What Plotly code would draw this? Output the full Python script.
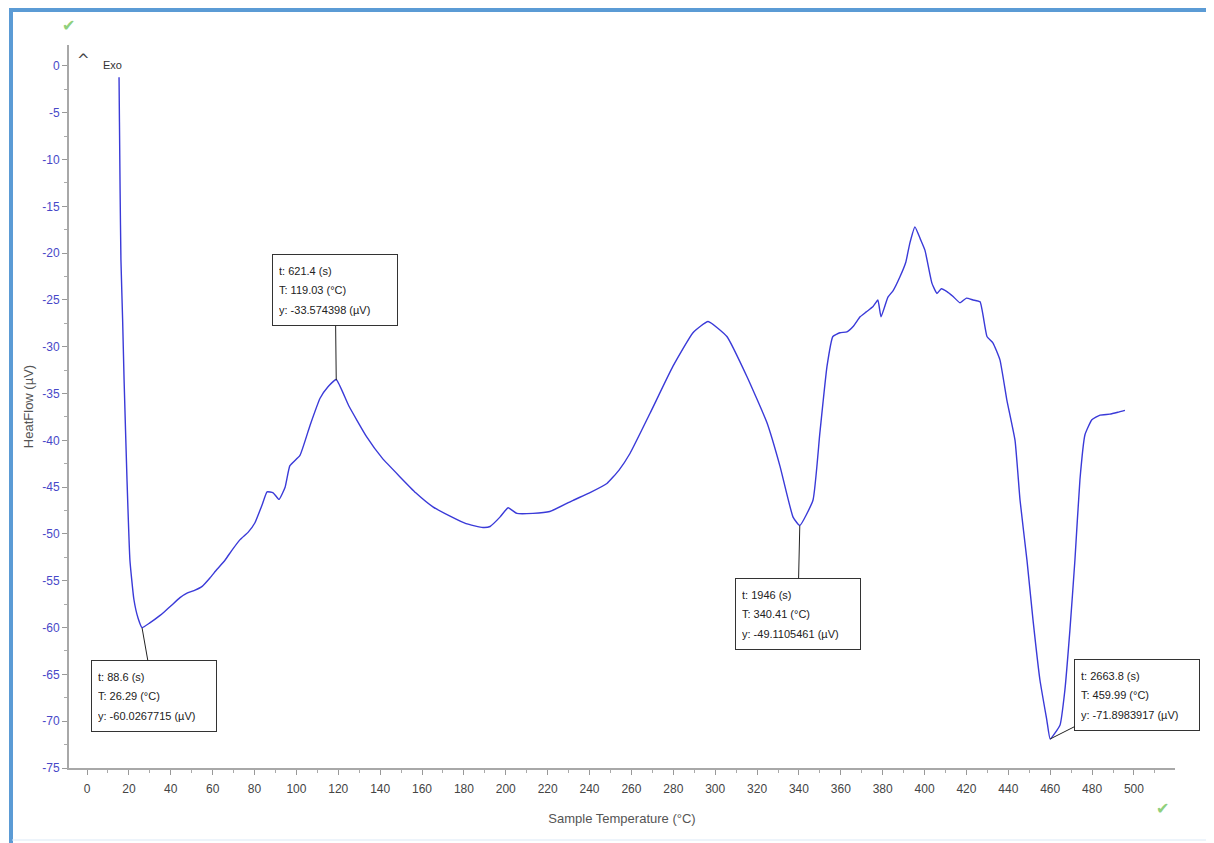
import plotly.graph_objects as go

# ---- data ----
temp = [15.3, 15.5, 15.8, 16.2, 17.0, 17.7, 19.1, 20.5, 22.4, 24.4, 26.3, 30.0, 34.9, 37.0, 40.0,
        44.4, 48.0, 51.6, 55.0, 58.7, 62.0, 65.9, 69.0, 73.1, 77.0, 80.2, 83.6, 86.0, 88.9, 91.7,
        94.6, 96.9, 101.7, 106.5, 111.3, 115.0, 119.0, 125.0, 133.5, 141.0, 149.5, 157.0, 165.2,
        173.4, 181.0, 189.1, 192.5, 197.2, 201.1, 205.3, 213.0, 221.0, 232.2, 240.0, 248.3,
        254.0, 259.3, 268.9, 279.8, 289.4, 296.6, 305.6, 315.2, 324.7, 331.0, 337.2, 340.4,
        346.7, 350.0, 353.4, 356.2, 359.6, 362.9, 366.0, 369.2, 372.0, 375.4, 377.7, 379.2,
        382.5, 385.0, 388.3, 391.0, 393.0, 395.4, 398.0, 400.2, 403.5, 405.9, 408.0, 410.7,
        413.5, 416.9, 420.0, 423.1, 426.5, 429.8, 432.7, 436.0, 439.3, 443.2, 445.6, 448.9,
        451.8, 455.1, 458.4, 460.0, 464.7, 467.0, 469.4, 471.8, 474.2, 476.6, 479.9, 483.8,
        488.5, 492.3, 495.7]
heatflow = [-1.2, -6.0, -13.2, -20.7, -27.0, -33.5, -44.2, -52.8, -57.0, -59.0, -60.0, -59.5,
            -58.7, -58.3, -57.7, -56.8, -56.3, -56.0, -55.6, -54.7, -53.8, -52.8, -51.8, -50.6,
            -49.8, -48.8, -46.9, -45.5, -45.6, -46.3, -45.0, -42.7, -41.6, -38.4, -35.5, -34.3,
            -33.5, -36.3, -39.6, -41.9, -43.9, -45.6, -47.1, -48.1, -48.9, -49.3, -49.2, -48.2,
            -47.2, -47.8, -47.8, -47.6, -46.4, -45.6, -44.6, -43.2, -41.4, -37.1, -32.1, -28.5,
            -27.3, -28.9, -33.2, -38.1, -42.8, -48.2, -49.1, -46.4, -39.2, -32.1, -28.9, -28.5,
            -28.4, -27.8, -26.8, -26.3, -25.7, -25.0, -26.8, -24.7, -24.0, -22.5, -21.0, -18.9,
            -17.2, -18.5, -19.7, -23.2, -24.3, -23.8, -24.1, -24.6, -25.3, -24.8, -25.0, -25.2,
            -28.9, -29.6, -31.4, -35.7, -40.0, -46.4, -52.8, -59.2, -65.6, -69.9, -71.9, -70.4,
            -66.7, -60.3, -52.8, -44.2, -39.4, -37.8, -37.3, -37.2, -37.0, -36.8]

# marked points (T, y, t)
mark_T = [119.03, 26.29, 340.41, 459.99]
mark_y = [-33.574398, -60.0267715, -49.1105461, -71.8983917]
mark_t = ["621.4", "88.6", "1946", "2663.8"]
mark_ax = [-1, 12, -2, 87]
mark_ay = [-90, 68, 88, -44]

x_ticks = list(range(0, 501, 20))
y_ticks = list(range(0, -76, -5))
y_ticklabels = [str(v) for v in y_ticks]

FONT = "Liberation Sans, Arial, sans-serif"

# page (browser) pixel -> paper coordinates; plot area occupies page x 69..1175, y 45..768
def px(p):
    return (p - 69) / 1106

def py(p):
    return 1 - (p - 45) / 723

fig = go.Figure()
fig.add_trace(go.Scatter(x=temp, y=heatflow, mode="lines",
                         line=dict(color="#3a3ad8", width=1.4, shape="spline", smoothing=0.4),
                         showlegend=False, hoverinfo="skip"))

for T, yv, t, ax, ay in zip(mark_T, mark_y, mark_t, mark_ax, mark_ay):
    lines = [f"t: {t} (s)", f"T: {T:.2f} (°C)", f"y: {yv} (µV)"]
    txt = "<br>".join(f"<span style='font-size:11px'>{s}</span>" for s in lines)
    fig.add_annotation(
        x=T, y=yv, ax=ax, ay=ay, showarrow=True, arrowhead=0, arrowwidth=1,
        arrowcolor="#222", standoff=0,
        text=txt,
        align="left", width=112, height=58, valign="middle",
        bgcolor="white", bordercolor="#333", borderwidth=1, borderpad=6,
        font=dict(family=FONT, size=15, color="#222"))

# Exo marker
fig.add_annotation(xref="paper", yref="paper", x=px(83), y=py(60), xanchor="center", yanchor="middle",
                   text="^", showarrow=False, font=dict(family="DejaVu Sans", size=15, color="#444"))
fig.add_annotation(xref="paper", yref="paper", x=px(112), y=py(65), xanchor="center", yanchor="middle",
                   text="Exo", showarrow=False, font=dict(family=FONT, size=11, color="#333"))
# green check marks
fig.add_annotation(xref="paper", yref="paper", x=px(68), y=py(25), xanchor="center", yanchor="middle",
                   text="✔", showarrow=False, font=dict(family="DejaVu Sans", size=16, color="#8fd07d"))
fig.add_annotation(xref="paper", yref="paper", x=px(1162), y=py(808), xanchor="center", yanchor="middle",
                   text="✔", showarrow=False, font=dict(family="DejaVu Sans", size=16, color="#8fd07d"))

# outer frame
fig.add_shape(type="line", xref="paper", yref="paper",
              x0=px(11), x1=px(11), y0=py(843), y1=py(8),
              line=dict(color="#5b9bd5", width=4))
fig.add_shape(type="line", xref="paper", yref="paper",
              x0=px(9), x1=px(1214), y0=py(10), y1=py(10),
              line=dict(color="#5b9bd5", width=4))
fig.add_shape(type="line", xref="paper", yref="paper",
              x0=px(12), x1=px(1214), y0=py(840), y1=py(840),
              line=dict(color="#dbe9f6", width=1))

# the page adds an 8px body margin, so the figure is 8px smaller and margins shifted
fig.update_layout(
    width=1206, height=835,
    margin=dict(l=61, r=39, t=37, b=75),
    paper_bgcolor="white", plot_bgcolor="white",
    font=dict(family=FONT),
    xaxis=dict(range=[-8.6, 519.6], tickvals=x_ticks, ticks="outside", ticklen=5,
               tickcolor="#999", showline=True, linecolor="#a8a8a8", linewidth=2,
               showgrid=False, zeroline=False, ticklabelstandoff=4,
               minor=dict(dtick=10, tick0=0, ticks="outside", ticklen=3, tickcolor="#aaa", showgrid=False),
               tickfont=dict(size=12, color="#444"),
               title=dict(text="Sample Temperature (°C)", font=dict(size=13, color="#555"), standoff=18)),
    yaxis=dict(range=[-75, 2.24], tickvals=y_ticks, ticktext=y_ticklabels, ticks="outside",
               ticklen=5, tickcolor="#999", showline=True, linecolor="#a8a8a8", linewidth=2,
               showgrid=False, zeroline=False,
               minor=dict(dtick=2.5, tick0=0, ticks="outside", ticklen=3, tickcolor="#aaa", showgrid=False),
               tickfont=dict(size=12, color="#4848c8"),
               title=dict(text="HeatFlow (µV)", font=dict(size=13, color="#555"), standoff=6)),
)

fig.write_html("out.html")
